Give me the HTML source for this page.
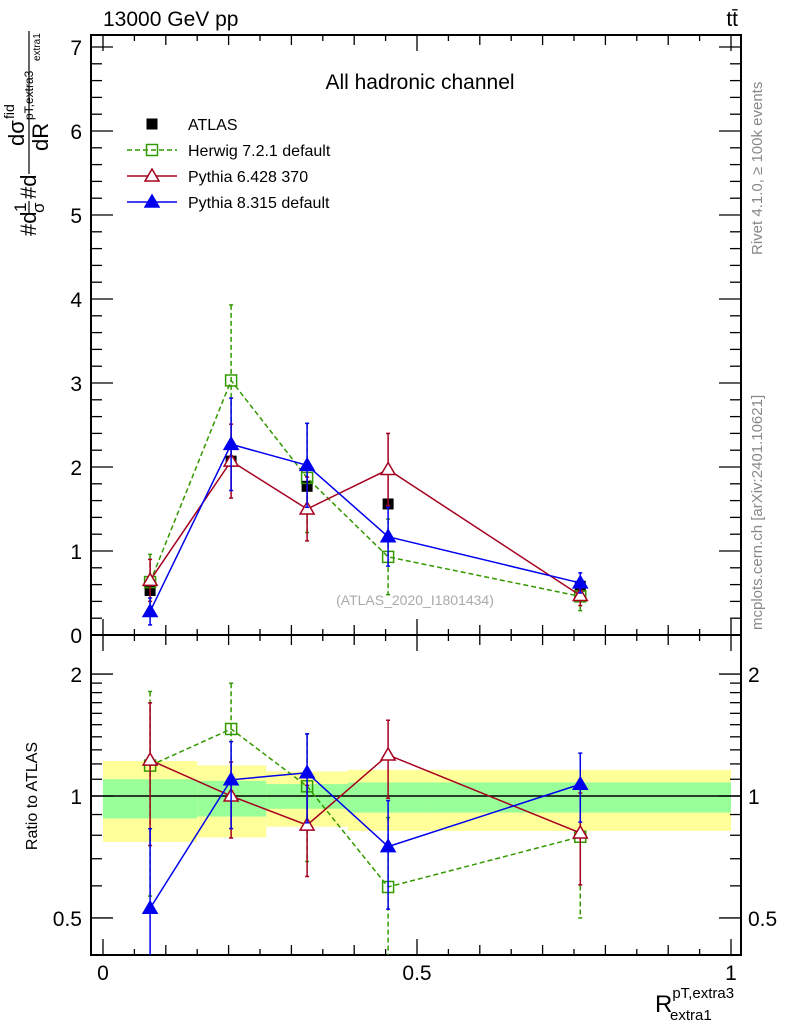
<!DOCTYPE html>
<html><head><meta charset="utf-8"><style>
body{margin:0;background:#fff}
svg text{font-family:"Liberation Sans",sans-serif}
</style></head><body>
<svg id="c" width="786" height="1024" xmlns="http://www.w3.org/2000/svg"></svg>
<script>
const binEdges=[0,0.15,0.26,0.39,0.52,1.0];
const xCenters=[0.075,0.204,0.325,0.454,0.76];
const atlas=[0.53,2.07,1.77,1.56,0.58];
const herwig=[0.63,3.03,1.87,0.93,0.46];
const herwigErr=[0.33,0.9,0.65,0.45,0.17];
const py6=[0.65,2.07,1.50,1.97,0.47];
const py6Err=[0.25,0.44,0.38,0.43,0.12];
const py8=[0.28,2.27,2.02,1.17,0.62];
const py8Err=[0.16,0.55,0.5,0.35,0.12];
const yelUp=[1.22,1.19,1.15,1.16,1.16];
const yelDn=[0.77,0.79,0.84,0.82,0.82];
const grnUp=[1.10,1.09,1.07,1.08,1.08];
const grnDn=[0.88,0.89,0.93,0.91,0.91];
const mainTicks=[0,1,2,3,4,5,6,7];
const ratioTicks=[0.5,1,2];
const xTicks=[0,0.5,1];

const S=document.getElementById('c');const NS='http://www.w3.org/2000/svg';
function el(t,a,p){const e=document.createElementNS(NS,t);for(const k in a)e.setAttribute(k,a[k]);(p||S).appendChild(e);return e;}
const L=91,R=741,T=35,MB=635,RB=955;
const X=v=>103+v*628;
const Y=v=>635-v*84;
const RY=v=>796-Math.log10(v)*405;
const cl=(y,a,b)=>Math.max(a,Math.min(b,y));

const bands=el('g',{});

for(let i=0;i<5;i++){
 const x0=X(binEdges[i]),x1=X(binEdges[i+1]);
 const y=el('rect',{x:x0,y:RY(yelUp[i]),width:x1-x0,height:RY(yelDn[i])-RY(yelUp[i]),fill:'#ffff99'},bands);
 
 const g=el('rect',{x:x0,y:RY(grnUp[i]),width:x1-x0,height:RY(grnDn[i])-RY(grnUp[i]),fill:'#99ff99'},bands);
 
}
el('line',{x1:L,x2:R,y1:RY(1),y2:RY(1),stroke:'#000','stroke-width':1.5});

el('rect',{x:L,y:T,width:R-L,height:MB-T,fill:'none',stroke:'#000','stroke-width':2});
el('rect',{x:L,y:MB,width:R-L,height:RB-MB,fill:'none',stroke:'#000','stroke-width':2});

for(let k=0;k<=20;k++){const v=k*0.05,x=X(v);const len=k%10==0?16:(k%2==0?10:6);
 for(const [b,t] of [[MB,T],[RB,MB]]){el('line',{x1:x,x2:x,y1:b,y2:b-len,stroke:'#000','stroke-width':1.3});el('line',{x1:x,x2:x,y1:t,y2:t+len,stroke:'#000','stroke-width':1.3});}}
xTicks.forEach(v=>{const t=el('text',{x:X(v),y:980,'font-size':21,'text-anchor':'middle'});t.textContent=String(v);});
for(let k=0;k<=35;k++){const v=k*0.2,y=Y(v);if(y<T)continue;const len=k%5==0?22:11;
 el('line',{x1:L,x2:L+len,y1:y,y2:y,stroke:'#000','stroke-width':1.3});el('line',{x1:R,x2:R-len,y1:y,y2:y,stroke:'#000','stroke-width':1.3});}
mainTicks.forEach(v=>{const t=el('text',{x:82,y:Y(v)+8,'font-size':21,'text-anchor':'end'});t.textContent=String(v);});
[0.5,0.6,0.7,0.8,0.9,1,1.1,1.2,1.3,1.4,1.5,1.6,1.7,1.8,1.9,2].forEach(v=>{const y=RY(v);const len=(v==0.5||v==1||v==2)?22:11;
 el('line',{x1:L,x2:L+len,y1:y,y2:y,stroke:'#000','stroke-width':1.3});el('line',{x1:R,x2:R-len,y1:y,y2:y,stroke:'#000','stroke-width':1.3});});
ratioTicks.forEach(v=>{for(const [x,a] of [[82,'end'],[748,'start']]){const t=el('text',{x:x,y:RY(v)+8,'font-size':21,'text-anchor':a});t.textContent=String(v);}});

function marker(g,type,x,y,c){
 if(type=='sq')el('rect',{x:x-5.5,y:y-5.5,width:11,height:11,fill:'none',stroke:c,'stroke-width':1.5},g);
 else if(type=='fsq')el('rect',{x:x-5.5,y:y-5.5,width:11,height:11,fill:c},g);
 else el('polygon',{points:`${x},${y-7} ${x-7},${y+5} ${x+7},${y+5}`,fill:type=='ftri'?c:'#fff',stroke:c,'stroke-width':1.5},g);
}
function series(name,vals,errs,color,type,dash){
 const g=el('g',{});
 const gm=el('g',{},g),gr=el('g',{},g);
 const pm=xCenters.map((x,i)=>X(x)+','+Y(vals[i])).join(' ');
 el('polyline',{points:pm,fill:'none',stroke:color,'stroke-width':1.5,'stroke-dasharray':dash||''},gm);
 const pr=xCenters.map((x,i)=>X(x)+','+cl(RY(vals[i]/atlas[i]),MB,RB)).join(' ');
 el('polyline',{points:pr,fill:'none',stroke:color,'stroke-width':1.5,'stroke-dasharray':dash||''},gr);
 xCenters.forEach((xc,i)=>{const x=X(xc);
  const y1=Y(vals[i]+errs[i]),y2=Y(Math.max(0,vals[i]-errs[i]));
  el('line',{x1:x,x2:x,y1:y1,y2:y2,stroke:color,'stroke-width':1.5,'stroke-dasharray':dash||''},gm);
  el('line',{x1:x-2,x2:x+2,y1:y1,y2:y1,stroke:color,'stroke-width':1.5},gm);
  el('line',{x1:x-2,x2:x+2,y1:y2,y2:y2,stroke:color,'stroke-width':1.5},gm);
  const r=vals[i]/atlas[i],ru=(vals[i]+errs[i])/atlas[i],rd=Math.max(0.01,(vals[i]-errs[i])/atlas[i]);
  const a=cl(RY(ru),MB,RB),b=cl(RY(rd),MB,RB);
  el('line',{x1:x,x2:x,y1:a,y2:b,stroke:color,'stroke-width':1.5,'stroke-dasharray':dash||''},gr);
  if(a>MB)el('line',{x1:x-2,x2:x+2,y1:a,y2:a,stroke:color,'stroke-width':1.5},gr);
  if(b<RB)el('line',{x1:x-2,x2:x+2,y1:b,y2:b,stroke:color,'stroke-width':1.5},gr);
  marker(gm,type,x,Y(vals[i]),color);
  const ry=RY(r);if(ry>MB&&ry<RB)marker(gr,type,x,ry,color);
 });
}
const ga=el('g',{});
xCenters.forEach((xc,i)=>marker(ga,'fsq',X(xc),Y(atlas[i]),'#000'));
series('herwig-series',herwig,herwigErr,'#339900','sq','5,3');
series('pythia6-series',py6,py6Err,'#a50021','tri');
series('pythia8-series',py8,py8Err,'#0000ee','ftri');

const lg=el('g',{});
const items=[['ATLAS','#000','fsq',''],['Herwig 7.2.1 default','#339900','sq','5,3'],['Pythia 6.428 370','#a50021','tri',''],['Pythia 8.315 default','#0000ee','ftri','']];
items.forEach((it,i)=>{const y=124+i*26;const e=el('g',{},lg);
 if(i>0)el('line',{x1:127,x2:177,y1:y,y2:y,stroke:it[1],'stroke-width':1.5,'stroke-dasharray':it[3]},e);
 marker(e,it[2],152,y,it[1]);
 const t=el('text',{x:188,y:y+6,'font-size':16},e);t.textContent=it[0];});

function txt(s,a,name,p){const t=el('text',a,p);t.textContent=s;if(name){}return t;}
txt('All hadronic channel',{x:420,y:89,'font-size':21,'text-anchor':'middle'},'plot-title');
txt('13000 GeV pp',{x:103,y:26,'font-size':21},'energy-label');
txt('tt̄',{x:738,y:26,'font-size':21,'text-anchor':'end'},'process-label');
txt('(ATLAS_2020_I1801434)',{x:415,y:605,'font-size':14,fill:'#aaaaaa','text-anchor':'middle'},'analysis-id');
txt('Rivet 4.1.0, ≥ 100k events',{x:0,y:0,'font-size':15,fill:'#888','transform':'translate(762,255) rotate(-90)'},'rivet-label');
txt('mcplots.cern.ch [arXiv:2401.10621]',{x:0,y:0,'font-size':15,fill:'#888','transform':'translate(762,630) rotate(-90)'},'mcplots-label');
txt('Ratio to ATLAS',{x:0,y:0,'font-size':16,'text-anchor':'middle','transform':'translate(37,796) rotate(-90)'},'ratio-y-title');

// y-axis title (rotated group)
const yg=el('g',{transform:'translate(36,236) rotate(-90)'});

txt('#d',{x:0,y:0,'font-size':22},null,yg);
txt('1',{x:24,y:-10,'font-size':17},null,yg);
el('line',{x1:23,x2:35,y1:-7,y2:-7,stroke:'#000','stroke-width':1.2},yg);
txt('σ',{x:23,y:8,'font-size':17},null,yg);
txt('#d',{x:37,y:0,'font-size':22},null,yg);
el('line',{x1:62,x2:205,y1:-7,y2:-7,stroke:'#000','stroke-width':1.2},yg);
txt('dσ',{x:90,y:-12,'font-size':22},null,yg);
txt('fid',{x:117,y:-22,'font-size':14},null,yg);
txt('pT,extra3',{x:116,y:-3,'font-size':12},null,yg);
txt('dR',{x:85,y:12,'font-size':22},null,yg);
txt('extra1',{x:175,y:4,'font-size':10},null,yg);

const xt=txt('R',{x:655,y:1012,'font-size':24},'x-axis-title');
xt.innerHTML='R<tspan font-size="15" dy="-14">pT,extra3</tspan><tspan font-size="15" dx="-64" dy="22">extra1</tspan>';
</script>
</body></html>
